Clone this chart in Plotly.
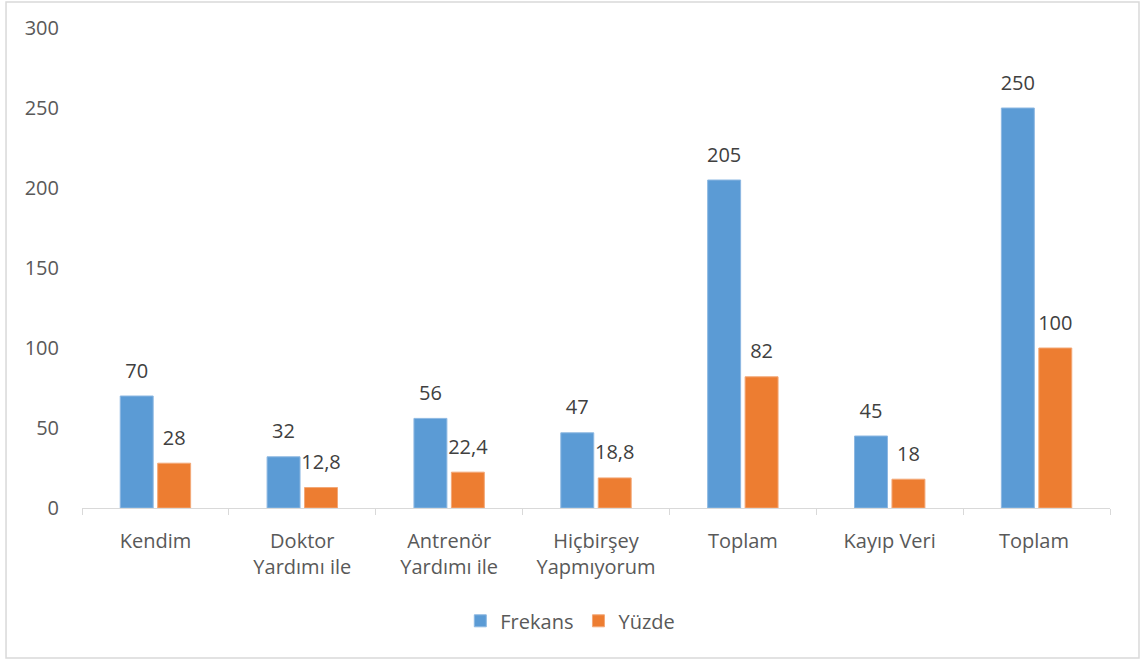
import plotly.graph_objects as go

categories = ["Kendim", "Doktor<br>Yardımı ile", "Antrenör<br>Yardımı ile",
              "Hiçbirşey<br>Yapmıyorum", "Toplam", "Kayıp Veri", "Toplam "]
frekans = [70, 32, 56, 47, 205, 45, 250]
yuzde = [28, 12.8, 22.4, 18.8, 82, 18, 100]
y_ticks = [0, 50, 100, 150, 200, 250, 300]

BLUE = "#5B9BD5"
ORANGE = "#ED7D31"
FONT = "Open Sans"
FS = 20


def fmt(v):
    return f"{v:g}".replace(".", ",")


fig = go.Figure()
for name, vals, color, edge, grp in [("Frekans", frekans, BLUE, "#8DB8E2", "a"),
                                     ("Yüzde", yuzde, ORANGE, "#F3A877", "b")]:
    fig.add_bar(x=categories, y=vals, name=name, offsetgroup=grp,
                marker=dict(color=color, line=dict(color=edge, width=1)))

# value labels, grouped like the bars; the invisible marker lifts the text
for vals, grp in [(frekans, "a"), (yuzde, "b")]:
    fig.add_scatter(x=categories, y=vals, mode="markers+text", offsetgroup=grp,
                    text=[fmt(v) for v in vals], textposition="top center",
                    textfont=dict(size=FS, color="#404040", family=FONT),
                    marker=dict(size=20, opacity=0), showlegend=False,
                    hoverinfo="skip", cliponaxis=False)

fig.update_layout(
    width=1144, height=664,
    margin=dict(l=82, r=34, t=28, b=156),
    paper_bgcolor="white", plot_bgcolor="white",
    barmode="group", bargap=0.49, bargroupgap=0.12,
    scattermode="group", scattergap=0.49,
    font=dict(family=FONT, size=FS, color="#595959"),
    showlegend=True,
    legend=dict(orientation="h", x=0.475, xanchor="center", y=-0.235, yanchor="middle",
                font=dict(size=FS, color="#595959"), itemwidth=30,
                traceorder="normal"),
)
fig.update_xaxes(showline=True, linecolor="#D9D9D9", linewidth=1,
                 ticks="outside", tickson="boundaries", ticklen=6, tickcolor="#D9D9D9",
                 ticklabelstandoff=15,
                 showgrid=False, tickfont=dict(size=FS, color="#595959"))
fig.update_yaxes(range=[0, 300], tickvals=y_ticks, showgrid=False, zeroline=False,
                 showline=False, ticks="", ticklabelstandoff=22,
                 tickfont=dict(size=FS, color="#595959"))

# outer chart frame
fig.add_shape(type="rect", xref="paper", yref="paper",
              x0=-0.0739, x1=1.0282, y0=-0.3125, y1=1.054,
              line=dict(color="#D9D9D9", width=1.5), fillcolor="rgba(0,0,0,0)",
              layer="below")

fig.write_html("out.html")
